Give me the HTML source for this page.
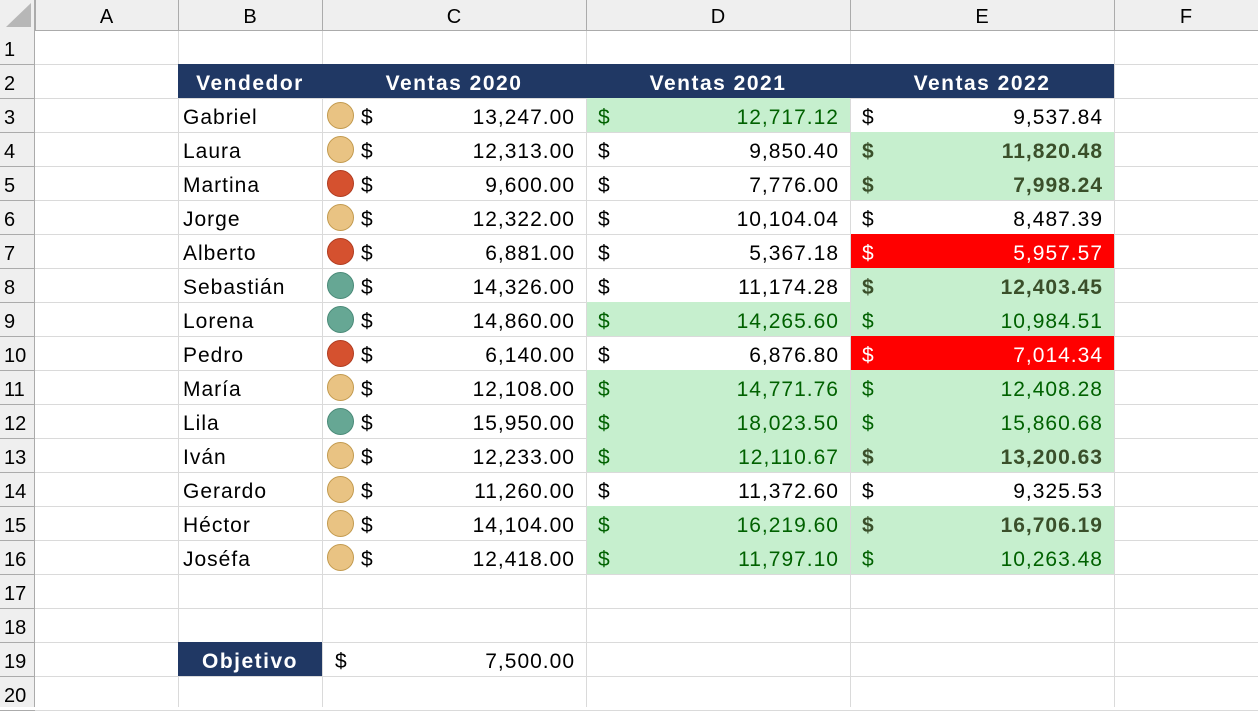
<!DOCTYPE html>
<html><head><meta charset="utf-8">
<style>
body{margin:0;width:1258px;height:707px;overflow:hidden;background:#fff;font-family:"Liberation Sans",sans-serif;position:relative}
.a{position:absolute;box-sizing:border-box}
.t{position:absolute;font-size:21px;line-height:34px;white-space:nowrap;letter-spacing:1px;padding-top:3px}
</style></head><body>
<div id="root"></div>
<script>
const names=["Gabriel","Laura","Martina","Jorge","Alberto","Sebastián","Lorena","Pedro","María","Lila","Iván","Gerardo","Héctor","Joséfa"];
const v2020=["13,247.00","12,313.00","9,600.00","12,322.00","6,881.00","14,326.00","14,860.00","6,140.00","12,108.00","15,950.00","12,233.00","11,260.00","14,104.00","12,418.00"];
const v2021=["12,717.12","9,850.40","7,776.00","10,104.04","5,367.18","11,174.28","14,265.60","6,876.80","14,771.76","18,023.50","12,110.67","11,372.60","16,219.60","11,797.10"];
const v2022=["9,537.84","11,820.48","7,998.24","8,487.39","5,957.57","12,403.45","10,984.51","7,014.34","12,408.28","15,860.68","13,200.63","9,325.53","16,706.19","10,263.48"];
const icon=["y","y","r","y","r","g","g","r","y","g","y","y","y","y"];
const s2021=["g","n","n","n","n","n","g","n","g","g","g","n","g","g"];
const s2022=["n","b","b","n","r","b","g","r","g","g","b","n","b","g"];
const R=document.getElementById('root');
function box(x,y,w,h,css){const d=document.createElement('div');d.className='a';d.style.cssText=`left:${x}px;top:${y}px;width:${w}px;height:${h}px;`+(css||'');R.appendChild(d);return d;}
function txt(x,y,s,css){const d=document.createElement('div');d.className='t';d.textContent=s;d.style.cssText=`top:${y}px;`+x+(css||'');R.appendChild(d);return d;}
const cols=[35,178,322,586,850,1114,1258];
const letters=["A","B","C","D","E","F"];
let hb=box(0,0,1258,31,'background:#efefef;border-bottom:1px solid #ababab');

let rb=box(0,0,35,707,'background:#efefef;border-right:1px solid #ababab');

let corner=document.createElementNS('http://www.w3.org/2000/svg','svg');
corner.setAttribute('width','35');corner.setAttribute('height','31');corner.style.cssText='position:absolute;left:0;top:0';
corner.innerHTML='<polygon points="31,3 31,27 6,27" fill="#b7b7b7"/>';

R.appendChild(corner);
for(let i=1;i<cols.length-1;i++){let l=box(cols[i],0,1,707,'background:#dadada');}
for(let i=0;i<cols.length-1;i++){let l=box(cols[i],0,1,31,'background:#ababab');

let h=txt(`left:${cols[i]}px;width:${cols[i+1]-cols[i]}px;text-align:center;`,-3,letters[i],'font-size:20px;letter-spacing:0');
}
function rowTop(n){return n==1?31:64+(n-2)*34;}
for(let n=1;n<=20;n++){
 let y=rowTop(n)+(n==1?33:34);
 let l=box(35,y,1223,1,'background:#dadada');
 let l2=box(0,y,35,1,'background:#ababab');
 let h=txt('left:4px;',rowTop(n)+(n==1?-1:0),String(n),'font-size:20px;letter-spacing:0');
 
}
let hd=box(178,64,936,34,'background:#203864');
const heads=["Vendedor","Ventas 2020","Ventas 2021","Ventas 2022"];
for(let i=0;i<4;i++){let h=txt(`left:${cols[i+1]}px;width:${cols[i+2]-cols[i+1]}px;text-align:center;`,64,heads[i],'color:#fff;font-weight:bold;font-size:21px;letter-spacing:1.5px');
}
const icol={y:['#e9c383','#c29a4e'],r:['#d5512f','#b03c20'],g:['#66a794','#4a8a78']};
function money(c,y,val,st,name){
 let x0=cols[c],x1=cols[c+1];
 let color='#000',w='normal';
 if(st!='n'){let bg=st=='r'?'#ff0000':'#c6efce';let f=box(x0+1,y,x1-x0-1,34,'background:'+bg);}
 if(st=='g')color='#006100';if(st=='b'){color='#3a4f2a';w='bold';}if(st=='r')color='#fff';
 let d=txt(`left:${x0+12}px;`,y,'$',`color:${color};font-weight:${w}`);
 let v=txt(`right:${1258-x1+11}px;`,y,val,`color:${color};font-weight:${w}`);
}
for(let i=0;i<names.length;i++){
 let y=rowTop(i+3);
 let n=txt('left:183px;',y,names[i]);
 let c=icol[icon[i]];
 let ic=box(327,y+4,27,27,`border-radius:50%;background:${c[0]};border:1.5px solid ${c[1]}`);
 
 let x1=cols[3];
 let d=txt('left:361px;',y,'$');
 let v=txt(`right:${1258-x1+11}px;`,y,v2020[i]);
 money(3,y,v2021[i],s2021[i],'ventas-2021');
 money(4,y,v2022[i],s2022[i],'ventas-2022');
}
let y19=rowTop(19);
let ob=box(178,y19,144,34,'background:#203864');
let ot=txt('left:178px;width:144px;text-align:center;',y19,'Objetivo','color:#fff;font-weight:bold;font-size:21px;letter-spacing:1.5px');
let od=txt('left:335px;',y19,'$');
let ov=txt(`right:${1258-586+11}px;`,y19,'7,500.00');
</script>
</body></html>
